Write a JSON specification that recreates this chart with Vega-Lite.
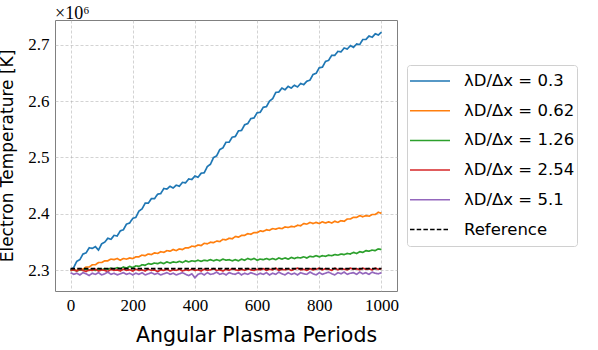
{
"$schema": "https://vega.github.io/schema/vega-lite/v6.json",
"width": 342, "height": 271,
"autosize": {"type": "none"},
"padding": {"left": 55, "top": 20, "right": 201, "bottom": 59},
"background": "white",
"title": {"text": "×10⁶", "anchor": "start", "frame": "group", "font": "Liberation Serif", "fontSize": 18, "fontWeight": "normal", "offset": -3, "color": "black"},
"config": {
  "view": {"stroke": "#808080", "strokeWidth": 1},
  "axis": {"labelFont": "Liberation Serif", "labelFontSize": 17, "labelColor": "black", "titleFont": "DejaVu Sans", "titleFontSize": 17, "titleFontWeight": "normal", "titleColor": "black", "ticks": false, "domain": false, "gridColor": "#b0b0b0", "gridDash": [3, 2], "gridWidth": 0.8, "gridOpacity": 0.7, "labelPadding": 6}
},
"data": {"values": [
{"x":0,"a":2.301,"b":2.300,"c":2.300,"d":2.300,"e":2.296,"r":2.303},
{"x":10,"a":2.305,"b":2.301,"c":2.301,"d":2.301,"e":2.293,"r":2.303},
{"x":20,"a":2.316,"b":2.300,"c":2.299,"d":2.299,"e":2.295,"r":2.303},
{"x":30,"a":2.319,"b":2.303,"c":2.301,"d":2.302,"e":2.292,"r":2.303},
{"x":40,"a":2.329,"b":2.302,"c":2.300,"d":2.300,"e":2.296,"r":2.303},
{"x":50,"a":2.331,"b":2.306,"c":2.302,"d":2.298,"e":2.294,"r":2.303},
{"x":60,"a":2.340,"b":2.306,"c":2.300,"d":2.301,"e":2.291,"r":2.303},
{"x":70,"a":2.339,"b":2.310,"c":2.302,"d":2.300,"e":2.295,"r":2.303},
{"x":80,"a":2.342,"b":2.310,"c":2.300,"d":2.302,"e":2.293,"r":2.303},
{"x":90,"a":2.336,"b":2.314,"c":2.303,"d":2.299,"e":2.296,"r":2.303},
{"x":100,"a":2.347,"b":2.314,"c":2.301,"d":2.301,"e":2.292,"r":2.303},
{"x":110,"a":2.350,"b":2.317,"c":2.303,"d":2.300,"e":2.294,"r":2.303},
{"x":120,"a":2.357,"b":2.317,"c":2.302,"d":2.298,"e":2.297,"r":2.303},
{"x":130,"a":2.355,"b":2.320,"c":2.304,"d":2.302,"e":2.293,"r":2.303},
{"x":140,"a":2.362,"b":2.319,"c":2.302,"d":2.300,"e":2.295,"r":2.303},
{"x":150,"a":2.361,"b":2.321,"c":2.305,"d":2.301,"e":2.292,"r":2.303},
{"x":160,"a":2.370,"b":2.318,"c":2.303,"d":2.299,"e":2.294,"r":2.303},
{"x":170,"a":2.372,"b":2.321,"c":2.306,"d":2.302,"e":2.296,"r":2.303},
{"x":180,"a":2.382,"b":2.320,"c":2.304,"d":2.300,"e":2.293,"r":2.303},
{"x":190,"a":2.384,"b":2.322,"c":2.307,"d":2.301,"e":2.295,"r":2.303},
{"x":200,"a":2.392,"b":2.321,"c":2.305,"d":2.299,"e":2.292,"r":2.303},
{"x":210,"a":2.394,"b":2.324,"c":2.308,"d":2.302,"e":2.295,"r":2.303},
{"x":220,"a":2.405,"b":2.324,"c":2.307,"d":2.300,"e":2.293,"r":2.303},
{"x":230,"a":2.409,"b":2.327,"c":2.310,"d":2.301,"e":2.296,"r":2.303},
{"x":240,"a":2.419,"b":2.326,"c":2.309,"d":2.299,"e":2.292,"r":2.303},
{"x":250,"a":2.419,"b":2.329,"c":2.312,"d":2.302,"e":2.294,"r":2.303},
{"x":260,"a":2.427,"b":2.328,"c":2.311,"d":2.300,"e":2.296,"r":2.303},
{"x":270,"a":2.427,"b":2.331,"c":2.313,"d":2.301,"e":2.293,"r":2.303},
{"x":280,"a":2.435,"b":2.330,"c":2.312,"d":2.298,"e":2.295,"r":2.303},
{"x":290,"a":2.436,"b":2.333,"c":2.314,"d":2.301,"e":2.292,"r":2.303},
{"x":300,"a":2.445,"b":2.332,"c":2.312,"d":2.300,"e":2.294,"r":2.303},
{"x":310,"a":2.444,"b":2.335,"c":2.315,"d":2.302,"e":2.296,"r":2.303},
{"x":320,"a":2.449,"b":2.334,"c":2.313,"d":2.299,"e":2.293,"r":2.303},
{"x":330,"a":2.446,"b":2.337,"c":2.315,"d":2.301,"e":2.295,"r":2.303},
{"x":340,"a":2.451,"b":2.335,"c":2.314,"d":2.300,"e":2.292,"r":2.303},
{"x":350,"a":2.449,"b":2.338,"c":2.316,"d":2.302,"e":2.294,"r":2.303},
{"x":360,"a":2.456,"b":2.337,"c":2.314,"d":2.299,"e":2.296,"r":2.303},
{"x":370,"a":2.455,"b":2.340,"c":2.317,"d":2.301,"e":2.293,"r":2.303},
{"x":380,"a":2.462,"b":2.340,"c":2.315,"d":2.300,"e":2.291,"r":2.303},
{"x":390,"a":2.461,"b":2.343,"c":2.317,"d":2.302,"e":2.294,"r":2.303},
{"x":400,"a":2.467,"b":2.342,"c":2.316,"d":2.300,"e":2.287,"r":2.303},
{"x":410,"a":2.465,"b":2.345,"c":2.318,"d":2.301,"e":2.293,"r":2.303},
{"x":420,"a":2.472,"b":2.344,"c":2.316,"d":2.299,"e":2.295,"r":2.303},
{"x":430,"a":2.473,"b":2.348,"c":2.318,"d":2.302,"e":2.292,"r":2.303},
{"x":440,"a":2.484,"b":2.347,"c":2.317,"d":2.300,"e":2.296,"r":2.303},
{"x":450,"a":2.488,"b":2.350,"c":2.319,"d":2.301,"e":2.293,"r":2.303},
{"x":460,"a":2.500,"b":2.349,"c":2.317,"d":2.303,"e":2.294,"r":2.303},
{"x":470,"a":2.503,"b":2.352,"c":2.319,"d":2.300,"e":2.297,"r":2.303},
{"x":480,"a":2.514,"b":2.351,"c":2.317,"d":2.301,"e":2.293,"r":2.303},
{"x":490,"a":2.517,"b":2.355,"c":2.320,"d":2.299,"e":2.295,"r":2.303},
{"x":500,"a":2.527,"b":2.354,"c":2.318,"d":2.302,"e":2.292,"r":2.303},
{"x":510,"a":2.527,"b":2.357,"c":2.319,"d":2.300,"e":2.296,"r":2.303},
{"x":520,"a":2.536,"b":2.356,"c":2.317,"d":2.303,"e":2.294,"r":2.303},
{"x":530,"a":2.537,"b":2.360,"c":2.319,"d":2.301,"e":2.293,"r":2.303},
{"x":540,"a":2.547,"b":2.359,"c":2.317,"d":2.300,"e":2.296,"r":2.303},
{"x":550,"a":2.548,"b":2.362,"c":2.320,"d":2.302,"e":2.292,"r":2.303},
{"x":560,"a":2.558,"b":2.362,"c":2.318,"d":2.300,"e":2.295,"r":2.303},
{"x":570,"a":2.560,"b":2.365,"c":2.321,"d":2.303,"e":2.293,"r":2.303},
{"x":580,"a":2.569,"b":2.364,"c":2.319,"d":2.301,"e":2.296,"r":2.303},
{"x":590,"a":2.570,"b":2.367,"c":2.321,"d":2.300,"e":2.294,"r":2.303},
{"x":600,"a":2.579,"b":2.367,"c":2.318,"d":2.302,"e":2.292,"r":2.303},
{"x":610,"a":2.580,"b":2.370,"c":2.320,"d":2.301,"e":2.295,"r":2.303},
{"x":620,"a":2.589,"b":2.369,"c":2.319,"d":2.303,"e":2.293,"r":2.303},
{"x":630,"a":2.590,"b":2.372,"c":2.321,"d":2.300,"e":2.296,"r":2.303},
{"x":640,"a":2.600,"b":2.371,"c":2.319,"d":2.302,"e":2.292,"r":2.303},
{"x":650,"a":2.604,"b":2.374,"c":2.321,"d":2.301,"e":2.295,"r":2.303},
{"x":660,"a":2.615,"b":2.373,"c":2.319,"d":2.304,"e":2.293,"r":2.303},
{"x":670,"a":2.616,"b":2.375,"c":2.322,"d":2.300,"e":2.297,"r":2.303},
{"x":680,"a":2.623,"b":2.374,"c":2.320,"d":2.302,"e":2.294,"r":2.303},
{"x":690,"a":2.620,"b":2.377,"c":2.322,"d":2.301,"e":2.292,"r":2.303},
{"x":700,"a":2.626,"b":2.376,"c":2.320,"d":2.303,"e":2.296,"r":2.303},
{"x":710,"a":2.623,"b":2.378,"c":2.323,"d":2.300,"e":2.293,"r":2.303},
{"x":720,"a":2.628,"b":2.377,"c":2.321,"d":2.302,"e":2.295,"r":2.303},
{"x":730,"a":2.625,"b":2.380,"c":2.323,"d":2.304,"e":2.292,"r":2.303},
{"x":740,"a":2.631,"b":2.379,"c":2.322,"d":2.301,"e":2.296,"r":2.303},
{"x":750,"a":2.629,"b":2.383,"c":2.324,"d":2.302,"e":2.294,"r":2.303},
{"x":760,"a":2.635,"b":2.382,"c":2.322,"d":2.300,"e":2.293,"r":2.303},
{"x":770,"a":2.637,"b":2.385,"c":2.325,"d":2.303,"e":2.297,"r":2.303},
{"x":780,"a":2.647,"b":2.383,"c":2.324,"d":2.301,"e":2.294,"r":2.303},
{"x":790,"a":2.649,"b":2.385,"c":2.326,"d":2.302,"e":2.292,"r":2.303},
{"x":800,"a":2.659,"b":2.383,"c":2.324,"d":2.304,"e":2.296,"r":2.303},
{"x":810,"a":2.660,"b":2.386,"c":2.326,"d":2.301,"e":2.293,"r":2.303},
{"x":820,"a":2.670,"b":2.384,"c":2.325,"d":2.303,"e":2.295,"r":2.303},
{"x":830,"a":2.672,"b":2.386,"c":2.327,"d":2.302,"e":2.297,"r":2.303},
{"x":840,"a":2.681,"b":2.384,"c":2.326,"d":2.300,"e":2.294,"r":2.303},
{"x":850,"a":2.681,"b":2.387,"c":2.328,"d":2.304,"e":2.292,"r":2.303},
{"x":860,"a":2.688,"b":2.385,"c":2.327,"d":2.301,"e":2.296,"r":2.303},
{"x":870,"a":2.687,"b":2.388,"c":2.329,"d":2.303,"e":2.294,"r":2.303},
{"x":880,"a":2.694,"b":2.387,"c":2.328,"d":2.302,"e":2.297,"r":2.303},
{"x":890,"a":2.692,"b":2.391,"c":2.330,"d":2.301,"e":2.293,"r":2.303},
{"x":900,"a":2.698,"b":2.391,"c":2.329,"d":2.304,"e":2.295,"r":2.303},
{"x":910,"a":2.695,"b":2.394,"c":2.332,"d":2.302,"e":2.296,"r":2.303},
{"x":920,"a":2.701,"b":2.394,"c":2.330,"d":2.303,"e":2.293,"r":2.303},
{"x":930,"a":2.700,"b":2.397,"c":2.333,"d":2.301,"e":2.297,"r":2.303},
{"x":940,"a":2.709,"b":2.395,"c":2.332,"d":2.304,"e":2.294,"r":2.303},
{"x":950,"a":2.709,"b":2.397,"c":2.335,"d":2.302,"e":2.296,"r":2.303},
{"x":960,"a":2.715,"b":2.396,"c":2.334,"d":2.303,"e":2.293,"r":2.303},
{"x":970,"a":2.713,"b":2.399,"c":2.336,"d":2.301,"e":2.297,"r":2.303},
{"x":980,"a":2.719,"b":2.399,"c":2.335,"d":2.304,"e":2.295,"r":2.303},
{"x":990,"a":2.717,"b":2.403,"c":2.338,"d":2.302,"e":2.294,"r":2.303},
{"x":1000,"a":2.722,"b":2.401,"c":2.337,"d":2.303,"e":2.296,"r":2.303}
]},
"transform": [{"fold": ["a", "b", "c", "d", "e", "r"], "as": ["key", "T"]}],
"mark": {"type": "line", "strokeWidth": 1.7},
"encoding": {
  "x": {"field": "x", "type": "quantitative", "scale": {"domain": [-50, 1050], "nice": false}, "axis": {"values": [0, 200, 400, 600, 800, 1000], "format": "d", "title": "Angular Plasma Periods", "titleFontSize": 20.5, "titlePadding": 12, "titleX": 201}},
  "y": {"field": "T", "type": "quantitative", "scale": {"domain": [2.2635, 2.7435], "nice": false, "zero": false}, "axis": {"values": [2.3, 2.4, 2.5, 2.6, 2.7], "format": ".1f", "title": "Electron Temperature [K]", "titlePadding": 11}},
  "color": {"field": "key", "type": "nominal", "scale": {"domain": ["a", "b", "c", "d", "e", "r"], "range": ["#1f77b4", "#ff7f0e", "#2ca02c", "#d62728", "#9467bd", "#000000"]},
    "legend": {"title": null, "orient": "none", "legendX": 352, "legendY": 45, "padding": 2, "clipHeight": 28, "rowPadding": 1.7, "strokeColor": "#d0d0d0", "fillColor": "white", "cornerRadius": 3, "symbolType": "stroke", "symbolSize": 1600, "symbolStrokeWidth": 1.5, "labelFont": "DejaVu Sans", "labelFontSize": 16.5, "labelColor": "black", "labelOffset": 13,
      "labelExpr": "datum.label == 'a' ? 'λD/Δx = 0.3' : datum.label == 'b' ? 'λD/Δx = 0.62' : datum.label == 'c' ? 'λD/Δx = 1.26' : datum.label == 'd' ? 'λD/Δx = 2.54' : datum.label == 'e' ? 'λD/Δx = 5.1' : 'Reference'"}},
  "strokeDash": {"field": "key", "type": "nominal", "scale": {"domain": ["a", "b", "c", "d", "e", "r"], "range": [[1, 0], [1, 0], [1, 0], [1, 0], [1, 0], [4.5, 2.2]]},
    "legend": {"title": null, "orient": "none", "legendX": 352, "legendY": 45, "padding": 2, "clipHeight": 28, "rowPadding": 1.7, "strokeColor": "#d0d0d0", "fillColor": "white", "cornerRadius": 3, "symbolType": "stroke", "symbolSize": 1600, "symbolStrokeWidth": 1.5, "labelFont": "DejaVu Sans", "labelFontSize": 16.5, "labelColor": "black", "labelOffset": 13,
      "labelExpr": "datum.label == 'a' ? 'λD/Δx = 0.3' : datum.label == 'b' ? 'λD/Δx = 0.62' : datum.label == 'c' ? 'λD/Δx = 1.26' : datum.label == 'd' ? 'λD/Δx = 2.54' : datum.label == 'e' ? 'λD/Δx = 5.1' : 'Reference'"}}
}
}
